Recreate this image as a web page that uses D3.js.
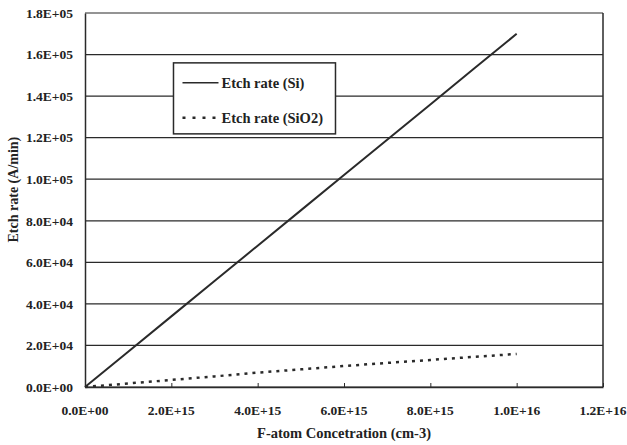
<!DOCTYPE html>
<html>
<head>
<meta charset="utf-8">
<script src="https://cdn.jsdelivr.net/npm/d3@7"></script>
<style>
  body { margin: 0; background: #fff; }
  text { font-family: "Liberation Serif", "Times New Roman", serif; font-weight: bold; fill: #222; }
</style>
</head>
<body>
<div id="chart"></div>
<script>
// F-atom concentration (cm-3)
const conc = [0, 1e15, 2e15, 3e15, 4e15, 5e15, 6e15, 7e15, 8e15, 9e15, 1e16];
// etch rates (A/min)
const siRate = [0, 17000, 34000, 51000, 68000, 85000, 102000, 119000, 136000, 153000, 170000];
const sio2Rate = [0, 1700, 3400, 5100, 6900, 8500, 10100, 11600, 13000, 14500, 15900];
const xTicks = [0, 2e15, 4e15, 6e15, 8e15, 1e16, 1.2e16];
const yTicks = [0, 2e4, 4e4, 6e4, 8e4, 1e5, 1.2e5, 1.4e5, 1.6e5, 1.8e5];
const seriesNames = ["Etch rate (Si)", "Etch rate (SiO2)"];

var margin = {top: 13, right: 24, bottom: 58, left: 85},
  width = 627 - margin.left - margin.right,
  height = 445 - margin.top - margin.bottom;

const svg = d3.select("#chart")
.append("svg")
  .attr("width", 627)
  .attr("height", 445)
.append("g")
  .attr("transform", `translate(${margin.left},${margin.top})`);

const x = d3.scaleLinear().domain([0, 1.2e16]).range([0, width]);
const y = d3.scaleLinear().domain([0, 1.8e5]).range([height, 0]);

// scientific labels like 2.0E+15
const sci = d => {
  if (d === 0) return "0.0E+00";
  const e = Math.floor(Math.log10(d));
  const m = d / Math.pow(10, e);
  return m.toFixed(1) + "E+" + String(e).padStart(2, "0");
};

const ink = "#2a2a2a";

//Gridlines
svg.selectAll(".grid")
  .data(yTicks)
  .enter().append("line")
  .attr("x1", 0).attr("x2", width)
  .attr("y1", d => y(d)).attr("y2", d => y(d))
  .attr("stroke", ink)
  .attr("stroke-width", 1.2);

//Y axis
const yAxis = svg.append("g")
  .call(d3.axisLeft(y).tickValues(yTicks).tickFormat(sci).tickSize(0).tickPadding(12));
yAxis.select(".domain").attr("stroke", ink).attr("stroke-width", 1.5);
yAxis.selectAll("text")
  .style("font-size", "13.5px")
  .style("font-family", "Liberation Serif")
  .style("font-weight", "bold")
  .attr("fill", ink);

//X axis
const xAxis = svg.append("g")
  .attr("transform", `translate(0,${height})`)
  .call(d3.axisTop(x).tickValues(xTicks).tickFormat("").tickSize(4).tickSizeOuter(0));
xAxis.select(".domain").attr("stroke", ink).attr("stroke-width", 1.5);
xAxis.selectAll("line").attr("stroke", ink);

svg.selectAll(".xlab")
  .data(xTicks)
  .enter().append("text")
  .attr("x", d => x(d))
  .attr("y", height + 28)
  .attr("text-anchor", "middle")
  .style("font-size", "13.5px")
  .text(sci);

//Right border
svg.append("line")
  .attr("x1", width).attr("x2", width)
  .attr("y1", 0).attr("y2", height)
  .attr("stroke", ink)
  .attr("stroke-width", 1.5);

//Axis titles
svg.append("text")
  .attr("x", x(6e15))
  .attr("y", height + 51)
  .attr("text-anchor", "middle")
  .style("font-size", "14.5px")
  .text("F-atom Concetration (cm-3)");

svg.append("text")
  .attr("transform", `translate(${-67},${y(0.95e5)}) rotate(-90)`)
  .attr("text-anchor", "middle")
  .style("font-size", "14px")
  .text("Etch rate (A/min)");

//Lines
const line = d3.line().x(d => x(d[0])).y(d => y(d[1]));

svg.append("path")
  .datum(conc.map((c, i) => [c, siRate[i]]))
  .attr("fill", "none")
  .attr("stroke", ink)
  .attr("stroke-width", 2)
  .attr("d", line);

svg.append("path")
  .datum(conc.map((c, i) => [c, sio2Rate[i]]))
  .attr("fill", "none")
  .attr("stroke", ink)
  .attr("stroke-width", 2.5)
  .attr("stroke-dasharray", "3,5")
  .attr("d", line);

//Legend
const legend = svg.append("g")
  .attr("transform", `translate(${x(2.05e15)},${y(1.56e5)})`);

legend.append("rect")
  .attr("width", 162)
  .attr("height", 71)
  .attr("fill", "#fff")
  .attr("stroke", ink)
  .attr("stroke-width", 1.5);

seriesNames.forEach((name, i) => {
  const ly = 20 + i * 35;
  legend.append("line")
    .attr("x1", 9).attr("x2", 45)
    .attr("y1", ly).attr("y2", ly)
    .attr("stroke", ink)
    .attr("stroke-width", i === 0 ? 1.5 : 2.5)
    .attr("stroke-dasharray", i === 0 ? null : "3,7");
  legend.append("text")
    .attr("x", 48)
    .attr("y", ly)
    .attr("dy", "0.35em")
    .style("font-size", "14.5px")
    .text(name);
});
</script>
</body>
</html>
